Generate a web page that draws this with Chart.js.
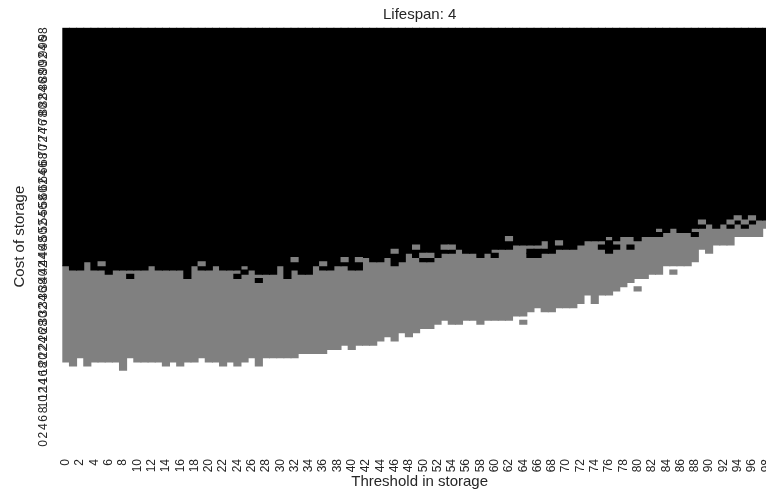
<!DOCTYPE html>
<html><head><meta charset="utf-8">
<script src="https://cdn.jsdelivr.net/npm/chart.js@4.4.0/dist/chart.umd.min.js"></script>
<style>
html,body{margin:0;padding:0;background:#fff;overflow:hidden;width:766px;height:494px}
#wrap{position:absolute;left:0;top:0;width:800px;height:494px}
</style></head><body>
<div id="wrap"><canvas id="c" width="800" height="494"></canvas></div>
<script>
// ---- data ----
const chartTitle = 'Lifespan: 4';
const xTitle = 'Threshold in storage';
const yTitle = 'Cost of storage';
const columns = [0,1,2,3,4,5,6,7,8,9,10,11,12,13,14,15,16,17,18,19,20,21,22,23,24,25,26,27,28,29,30,31,32,33,34,35,36,37,38,39,40,41,42,43,44,45,46,47,48,49,50,51,52,53,54,55,56,57,58,59,60,61,62,63,64,65,66,67,68,69,70,71,72,73,74,75,76,77,78,79,80,81,82,83,84,85,86,87,88,89,90,91,92,93,94,95,96,97,98,99];
// first grey row (cost) for each threshold column; rows below are white
const lowerBound = [20,19,21,19,20,20,20,20,18,21, 20,20,20,20,19,20,19,20,20,21, 20,20,19,20,19,20,21,19,21,21, 21,21,21,22,22,22,22,23,23,24, 23,24,24,24,25,26,25,27,26,27, 28,28,29,30,29,29,30,30,29,30, 30,30,30,31,31,32,33,32,32,33, 33,33,34,36,34,36,36,37,38,39, 40,40,41,41,43,43,43,43,44,47, 46,48,48,48,50,50,50,50,52,52];
// first black row (cost) for each threshold column; rows from here up are black
const upperBound = [43,42,42,44,42,42,41,42,42,42, 42,42,43,42,42,42,42,40,43,42, 42,43,42,42,42,43,42,41,41,41, 43,40,42,41,41,43,42,42,43,43, 42,42,45,44,44,45,43,44,46,45, 44,44,45,46,46,47,46,46,45,46, 47,47,47,48,48,48,48,49,46,47, 47,47,48,49,49,49,50,49,50,50, 49,50,50,52,51,52,51,51,52,52, 53,52,53,52,53,52,53,54,54,54];
// isolated cells [threshold, cost]
const greyCells = [[5,43],[19,43],[32,44],[36,43],[39,44],[41,44],[46,46],[49,47],[50,45],[51,45],[53,47],[54,47],[62,49],[64,29],[69,48],[80,37],[85,41],[89,53],[93,53],[94,54],[95,53],[96,54]];
const blackCells = [[9,40],[24,40],[25,41],[27,39],[60,45],[65,45],[65,46],[66,45],[66,46],[67,46],[75,47],[76,46],[76,47],[76,48],[77,47],[79,47],[83,50],[88,50]];
const xTicks = [0,2,4,6,8,10,12,14,16,18,20,22,24,26,28,30,32,34,36,38,40,42,44,46,48,50,52,54,56,58,60,62,64,66,68,70,72,74,76,78,80,82,84,86,88,90,92,94,96,98];
const yTicks = [0,2,4,6,8,10,12,14,16,18,20,22,24,26,28,30,32,34,36,38,40,42,44,46,48,50,52,54,56,58,60,62,64,66,68,70,72,74,76,78,80,82,84,86,88,90,92,94,96,98];
const colors = {white:'#ffffff', grey:'#808080', black:'#000000'};
const rowMax = 99;

// ---- build ----
const FONT = "'Liberation Sans', Arial, sans-serif";
const TXT = '#262626';
const span = (c, a, b) => ({x: c, y: [a - 0.5, b - 0.5]});
const datasets = [
  {label:'black cells', data: blackCells.map(([c, r]) => span(c, r, r + 1)), backgroundColor: colors.black},
  {label:'grey cells', data: greyCells.map(([c, r]) => span(c, r, r + 1)), backgroundColor: colors.grey},
  {label:'black', data: columns.map((c, i) => span(c, upperBound[i], rowMax + 1)), backgroundColor: colors.black},
  {label:'grey', data: columns.map((c, i) => span(c, lowerBound[i], upperBound[i])), backgroundColor: colors.grey},
  {label:'white', data: columns.map((c, i) => span(c, 0, lowerBound[i])), backgroundColor: colors.white}
];

new Chart(document.getElementById('c'), {
  type: 'bar',
  data: {datasets},
  options: {
    responsive: false, animation: false, events: [],
    layout: {padding: {left: 0, right: 23, top: 0, bottom: 0}},
    datasets: {bar: {grouped: false, barPercentage: 1, categoryPercentage: 1, borderWidth: 0, inflateAmount: 0.5}},
    plugins: {
      legend: {display: false}, tooltip: {enabled: false},
      title: {display: true, text: chartTitle, fullSize: false, color: TXT,
        font: {family: FONT, size: 15, weight: 'normal'}, padding: {top: 6.3, bottom: 3.4}}
    },
    scales: {
      x: {
        type: 'linear', min: -0.5, max: 99.5, bounds: 'data', offset: false,
        grid: {display: false, drawTicks: false}, border: {display: false},
        afterBuildTicks: s => { s.ticks = xTicks.map(v => ({value: v})); },
        afterFit: s => { s.height = 48.5; },
        ticks: {autoSkip: false, minRotation: 90, maxRotation: 90, padding: 13.5, color: TXT,
          font: {family: FONT, size: 12}},
        title: {display: true, text: xTitle, color: TXT, font: {family: FONT, size: 15}, padding: {top: 0, bottom: 3.3}}
      },
      y: {
        type: 'linear', min: -0.5, max: 99.5, bounds: 'data',
        grid: {display: false, drawTicks: false}, border: {display: false},
        afterBuildTicks: s => { s.ticks = yTicks.map(v => ({value: v})); },
        afterFit: s => { s.width = 62.3; },
        ticks: {autoSkip: false, minRotation: 90, maxRotation: 90, crossAlign: 'center', padding: 12, color: TXT,
          font: {family: FONT, size: 12}},
        title: {display: true, text: yTitle, color: TXT, font: {family: FONT, size: 15}, padding: {top: 11, bottom: 0}}
      }
    }
  }
});
</script>
</body></html>
